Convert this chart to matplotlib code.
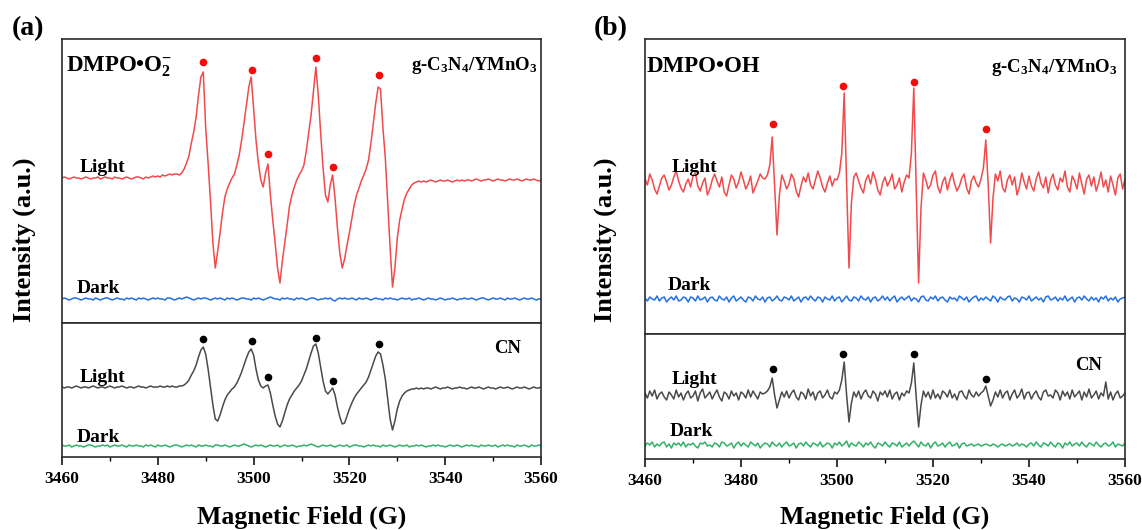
import numpy as np
import matplotlib
matplotlib.use("Agg")
import matplotlib.pyplot as plt
from matplotlib.ticker import MultipleLocator

plt.rcParams['font.family'] = ['Liberation Serif', 'DejaVu Serif']
plt.rcParams['font.weight'] = 'bold'
plt.rcParams['mathtext.fontset'] = 'custom'
plt.rcParams['mathtext.rm'] = 'Liberation Serif:bold'
plt.rcParams['mathtext.bf'] = 'Liberation Serif:bold'
plt.rcParams['mathtext.it'] = 'Liberation Serif:italic:bold'

# ---------------- data (field sweep 3460-3560 G, 0.5 G step) ----------------
field = np.arange(3460, 3560.25, 0.5)

# (a) g-C3N4/YMnO3, DMPO-O2-, light (absolute, upper panel units)
a_light = [145, 146, 145, 144, 145, 146, 145, 145, 144, 145,
           146, 145, 144, 145, 145, 146, 144, 145, 146, 145,
           145, 144, 146, 145, 145, 144, 145, 146, 145, 144,
           145, 146, 146, 145, 144, 146, 145, 146, 147, 146,
           147, 146, 148, 147, 148, 149, 148, 149, 149, 148,
           150, 154, 160, 167, 180, 191, 206, 228, 246, 251,
           195, 160, 122, 80, 55, 72, 90, 110, 126, 134,
           140, 145, 149, 158, 168, 183, 200, 218, 236, 246,
           215, 183, 160, 143, 136, 150, 159, 128, 103, 80,
           55, 40, 62, 80, 98, 117, 128, 136, 143, 148,
           152, 158, 172, 190, 208, 232, 256, 228, 190, 155,
           128, 121, 138, 148, 125, 95, 70, 55, 64, 78,
           90, 104, 118, 128, 135, 142, 148, 154, 163, 180,
           200, 220, 236, 234, 195, 165, 120, 75, 36, 55,
           85, 103, 114, 124, 130, 134, 138, 140, 141, 142,
           141, 142, 141, 142, 143, 142, 141, 142, 143, 142,
           142, 143, 142, 141, 142, 143, 142, 143, 142, 143,
           143, 142, 143, 144, 143, 142, 143, 143, 144, 143,
           142, 143, 144, 143, 143, 142, 143, 144, 143, 143,
           144, 143, 142, 143, 144, 143, 143, 144, 143, 142, 143]

# (a) dark, offset + wiggle (upper panel units)
a_dark_offset = 24
a_dark = [0, 1, 0, -1, 0, 1, 1, 0, -1, 0, 1, 0, 0, -1, 1, 0, -1, 0, 1, 1,
          0, -1, 0, 1, 0, 0, -1, 1, 0, 1, 0, -1, 1, 0, 1, 0, -1, 0, 1, 0,
          1, 0, 0, -1, 1, 1, 0, -1, 0, 1, 0, 1, 2, 1, 0, -1, 0, 1, 0, 1,
          1, 0, -1, 0, 1, 0, 1, 0, -1, 1, 0, 1, 0, -1, 0, 1, 1, 0, 0, -1,
          1, 0, 1, 0, -1, 0, 1, 2, 1, 0, 0, -1, 1, 0, 1, 0, 0, -1, 1, 0,
          1, 0, -1, 0, 1, 1, 0, -1, 0, 0, 1, 0, 1, -1, -2, 0, 1, 0, 1, 0,
          0, 1, 0, -1, 1, 0, 0, 1, 0, -1, 0, 1, 0, 0, -1, 1, 0, 1, 0, 0,
          -1, 0, 1, 0, 0, 1, -1, 0, 0, 1, 0, -1, 0, 1, 0, 0, -1, 0, 1, 0,
          -1, 0, 0, 1, 0, -1, 0, 0, 1, 0, 0, 1, 0, -1, 0, 1, 1, 0, -1, 0,
          1, 0, 0, 1, 0, -1, 1, 0, 0, 1, 0, -1, 0, 1, 0, 0, 1, 0, -1, 0, 0]

# (a) CN light (absolute, lower panel units)
a_cn_light = [70, 69, 70, 70, 69, 70, 71, 70, 69, 70,
              70, 69, 70, 71, 70, 69, 70, 70, 69, 70,
              71, 70, 69, 70, 70, 71, 70, 69, 70, 70,
              69, 70, 71, 70, 70, 69, 70, 71, 70, 70,
              70, 71, 70, 70, 71, 70, 71, 70, 70, 71,
              71, 72, 74, 77, 82, 86, 92, 100, 107, 110,
              103, 88, 70, 52, 38, 36, 42, 50, 57, 62,
              65, 68, 70, 74, 79, 85, 92, 99, 105, 108,
              102, 88, 77, 71, 69, 71, 72, 64, 52, 41,
              33, 30, 36, 44, 52, 58, 62, 66, 69, 72,
              76, 82, 88, 96, 104, 111, 113, 104, 90, 76,
              66, 63, 66, 69, 62, 50, 40, 33, 34, 41,
              48, 54, 59, 63, 66, 69, 72, 75, 80, 87,
              94, 101, 105, 103, 92, 78, 58, 38, 27, 36,
              48, 56, 61, 64, 66, 67, 68, 68, 69, 68,
              69, 68, 69, 69, 68, 69, 70, 69, 68, 69,
              69, 70, 69, 68, 69, 69, 70, 69, 69, 68,
              69, 70, 69, 69, 70, 69, 68, 69, 70, 69,
              69, 68, 69, 70, 69, 69, 70, 69, 68, 69,
              70, 69, 69, 70, 69, 68, 69, 70, 69, 69, 70]

# (a) CN dark, offset + wiggle (lower panel units)
a_cn_dark_offset = 11
a_cn_dark = [1, 0, 0, 1, -1, 0, 1, 0, 0, -1, 0, 1, 1, 0, -1, 0, 0, 1, 0, 1,
             -1, 0, 1, 0, 0, 1, 0, -1, 1, 0, 0, 1, 0, 0, -1, 1, 0, 1, 0, -1,
             1, 0, 0, 1, 0, -1, 0, 1, 1, 0, -1, 0, 1, 0, 1, 0, -1, 1, 0, 0,
             1, 0, 0, -1, 1, 1, 0, 0, 1, 0, -1, 0, 1, 0, 0, 1, 2, 1, 0, -1,
             0, 1, 0, 1, 0, -1, 0, 1, 0, 0, 1, -1, 0, 1, 0, 0, 1, 0, -1, 0,
             0, 1, 0, 1, 2, 1, 0, -1, 0, 1, 0, 0, 1, 0, -1, 0, 1, 0, 0, 1,
             -1, 0, 1, 1, 0, 0, -1, 0, 1, 0, 1, 0, 0, -1, 1, 0, 0, 1, 0, -1,
             0, 1, 0, 0, 1, -1, 0, 0, 1, 0, 1, 0, -1, 0, 0, 1, 0, 1, 0, 0,
             -1, 0, 1, 0, 0, 1, 0, -1, 0, 1, 0, 1, 0, 0, -1, 1, 0, 0, 1, 0,
             0, 1, -1, 0, 1, 0, 1, 0, 0, -1, 1, 0, 0, 1, 0, -1, 1, 0, 0, 1, 0]

# (b) g-C3N4/YMnO3, DMPO-OH, light: offset + signal (upper panel units)
b_light_offset = 151
b_light = [4, -2, 9, 3, -6, -11, -3, 5, 8, 1,
           -7, -2, 6, 12, 2, -5, -9, -1, 4, -4,
           7, 10, -3, -8, 0, 5, -12, -6, 3, 9,
           2, -4, 6, -9, -13, -2, 8, 4, -5, 1,
           11, 3, -6, -1, 7, -10, -4, 2, 9, 5,
           4, 8, 18, 46, -2, -52, -12, 8, 2, -6,
           -1, 9, 4, -8, -14, -3, 6, 1, 10, -2,
           -6, 3, 12, 5, -4, -9, 0, 7, -3, 4,
           3, 10, 30, 90, 0, -85, -20, 6, 10, 2,
           -5, -10, 3, 8, -1, 11, 4, -7, -12, 0,
           6, -3, 2, 9, -6, -2, 5, -9, 1, 8,
           5, 30, 95, -5, -100, -25, 10, 3, -6, -2,
           8, 12, -4, -10, 1, 6, -7, 3, 10, -1,
           -8, -3, 5, 9, -5, -11, 2, 7, 0, -4,
           4, 15, 43, -2, -60, -15, 9, 2, 12, -5,
           -9, 3, 8, -2, 6, -12, -4, 10, 1, -6,
           7, -3, -8, 4, 11, 0, -5, 6, -10, 3,
           9, -2, -7, 5, 1, 12, -4, -9, 7, 2,
           -6, 10, -1, -11, 4, 8, -3, 6, -8, 0,
           11, -4, 3, -9, 7, -2, -12, 5, 9, -6, 4]

b_dark_offset = 35
b_dark = [1, -2, 2, 0, -1, 3, -2, 1, 2, -3, 0, 2, -1, 3, -2, -1, 2, 1, -3, 2,
          1, -2, 3, -1, 0, 2, -3, 1, 2, -1, -2, 3, 0, -1, 2, -3, 1, 3, -2, 0,
          2, -1, -3, 2, 1, -2, 3, 0, -1, 2, -3, 1, 2, -2, 0, 3, -1, -2, 2, 1,
          -1, 3, -2, 0, 2, -3, 1, 2, -1, 3, 0, -2, 2, 1, -3, 2, 0, -1, 3, -2,
          1, 2, -3, 0, 3, -1, -2, 2, 1, -2, 3, 0, -1, 2, -3, 1, 2, -2, 0, 3,
          -1, 2, -2, 1, 3, -3, 0, 2, -1, 1, 3, -2, 1, 0, -3, 2, 3, -1, -2, 2,
          0, 3, -2, 1, 2, -1, -3, 2, 0, 1, -2, 3, 1, -1, 2, -3, 0, 2, 3, -2,
          1, -1, 2, 0, -2, 3, 1, -3, 2, 0, -1, 2, 3, -2, 1, 0, -3, 2, 1, -1,
          3, -2, 0, 2, -1, 1, -3, 2, 3, -1, 0, 2, -2, 1, -1, 3, -2, 0, 2, -3,
          1, 2, -1, 3, 0, -2, 2, -1, 1, -3, 2, 0, 3, -2, 1, -1, 2, -3, 0, 1, 2]

# (b) CN light: offset + signal (lower panel units)
b_cn_light_offset = 64
b_cn_light = [2, -3, 4, -1, 5, -4, 1, 3, -2, -5,
              3, 0, -4, 5, -2, 2, -5, 1, 4, -3,
              -1, 4, -6, 2, 6, -3, 0, 3, -4, 1,
              5, -2, -6, 3, 1, -4, 4, -1, 2, -5,
              3, 1, -3, 5, -2, 4, 0, -4, 3, 1,
              2, 4, 8, 17, 0, -13, -5, 3, -2, 4,
              -3, 2, 5, -2, -5, 3, 1, -4, 6, -1,
              3, -5, 2, 4, -3, 0, 5, -2, -4, 3,
              1, 5, 15, 33, 0, -27, -8, 3, -2, 4,
              -4, 2, 5, -1, -3, 4, 1, -6, 3, 0,
              4, -2, 5, -4, 1, 3, -5, 2, -1, 4,
              2, 12, 32, -2, -32, -10, 4, -2, 3, -4,
              5, -3, 1, -4, 4, 2, -2, 5, -3, 1,
              -5, 3, 4, -1, -4, 5, 0, -2, 3, -1,
              2, 4, 9, -1, -11, -5, 3, -2, 5, -3,
              2, 4, -5, 1, 5, -3, 0, 6, -4, 2,
              3, -4, 1, 4, -2, -5, 3, 5, -1, 0,
              -3, 5, 2, -5, 4, -1, 3, -4, 5, -2,
              1, 4, -5, 3, -2, 6, -3, 0, 4, -4,
              2, -1, 13, -4, 3, -5, 1, 4, -3, -1, 2]

b_cn_dark_offset = 14
b_cn_dark = [-1, 2, 0, 3, -2, 1, -1, 2, 3, -2, 1, -3, 2, 0, 2, -1, 3, -2, 1, 0,
             2, -1, -3, 2, 1, 3, -1, 0, -2, 2, 1, -2, 3, 2, -1, 0, 2, -3, 1, 3,
             -1, 2, 0, -2, 3, 1, -1, 2, -3, 0, 2, 1, -2, 3, 0, -1, 2, -2, 1, 3,
             -1, 0, 2, -3, 1, 2, -1, 3, 0, -2, 2, 1, -1, 3, -2, 0, 2, 1, -3, 2,
             0, 3, -1, 1, 4, -2, 2, 0, -1, 3, 1, -2, 2, 0, 3, -1, -3, 2, 1, -1,
             3, 0, -2, 2, 1, -1, 3, -2, 0, 2, -1, 2, 4, 1, -2, 3, 0, -1, 2, -3,
             1, 3, -1, 0, 2, -2, 1, 3, -1, 0, 2, -3, 1, 2, -1, 0, 1, -1, 0, 1,
             -1, 0, 1, 0, -1, 1, 0, -2, 0, 1, -1, 0, 1, -1, 0, 2, -1, 1, 0, -2,
             1, 2, -1, 3, 0, -2, 2, 1, -1, 3, 0, -2, 2, 1, -3, 2, 0, 3, -1, 1,
             2, -1, 3, 0, -2, 2, 1, -1, 3, 0, -2, 1, 2, -1, 0, 3, -2, 1, 0, -1, 2]

# marker dots (field, height)
a_dot_fields = [3489.5, 3499.7, 3503.1, 3513.0, 3516.6, 3526.2]
a_dot_light = [261, 253, 169, 265, 156, 248]
a_dot_cn = [118, 116, 80, 119, 76, 113]
b_dot_fields = [3486.6, 3501.3, 3516.1, 3531.0]
b_dot_light = [210, 248, 252, 205]
b_dot_cn = [90, 105, 105, 80]

x_ticks = [3460, 3480, 3500, 3520, 3540, 3560]

# ---------------- styling ----------------
RED = '#F04A4C'
DOT_RED = '#F20D0D'
BLUE = '#2470E0'
GRAY = '#4A4A4A'
GREEN = '#35B06A'
LW = 1.1
W, H = 1142, 530

fig = plt.figure(figsize=(W / 100, H / 100), dpi=100)


def px_axes(left, right, top, bottom):
    return fig.add_axes([left / W, 1 - bottom / H, (right - left) / W, (bottom - top) / H])


axA_top = px_axes(62, 541, 39, 323)
axA_bot = px_axes(62, 541, 323, 457)
axB_top = px_axes(645, 1125, 39, 334)
axB_bot = px_axes(645, 1125, 334, 459)

f = np.asarray(field)

axA_top.plot(f, a_light, color=RED, lw=LW)
axA_top.plot(f, a_dark_offset + np.asarray(a_dark), color=BLUE, lw=LW)
axA_top.plot(a_dot_fields, a_dot_light, 'o', color=DOT_RED, ms=5.5, mec='none')
axA_top.set_ylim(0, 284)

axA_bot.plot(f, a_cn_light, color=GRAY, lw=LW)
axA_bot.plot(f, a_cn_dark_offset + np.asarray(a_cn_dark), color=GREEN, lw=LW)
axA_bot.plot(a_dot_fields, a_dot_cn, 'o', color='black', ms=5.5, mec='none')
axA_bot.set_ylim(0, 134)

axB_top.plot(f, b_light_offset + np.asarray(b_light), color=RED, lw=LW)
axB_top.plot(f, b_dark_offset + np.asarray(b_dark), color=BLUE, lw=LW)
axB_top.plot(b_dot_fields, b_dot_light, 'o', color=DOT_RED, ms=5.5, mec='none')
axB_top.set_ylim(0, 295)

axB_bot.plot(f, b_cn_light_offset + np.asarray(b_cn_light), color=GRAY, lw=LW)
axB_bot.plot(f, b_cn_dark_offset + np.asarray(b_cn_dark), color=GREEN, lw=LW)
axB_bot.plot(b_dot_fields, b_dot_cn, 'o', color='black', ms=5.5, mec='none')
axB_bot.set_ylim(0, 125)

for ax in (axA_top, axA_bot, axB_top, axB_bot):
    ax.set_xlim(3460, 3560)
    ax.set_yticks([])
    for s in ax.spines.values():
        s.set_linewidth(1.2)
        s.set_color('#2b2b2b')

for ax in (axA_top, axB_top):
    ax.set_xticks([])

for ax in (axA_bot, axB_bot):
    ax.set_xticks(x_ticks)
    ax.xaxis.set_minor_locator(MultipleLocator(10))
    ax.tick_params(axis='x', which='major', direction='out', length=6, width=1.1,
                   labelsize=12.5, pad=4)
    ax.tick_params(axis='x', which='minor', direction='out', length=3, width=1.0)
    for lab in ax.get_xticklabels():
        lab.set_fontweight('bold')

txt = dict(fontweight='bold', va='baseline')

# panel (a) texts
axA_top.text(0.008, 0.884, 'DMPO•O$_{\\mathbf{2}}^{\\mathbf{-}}$', transform=axA_top.transAxes,
             ha='left', fontsize=16.5, **txt)
axA_top.text(0.994, 0.891, 'g-C$_{\\mathbf{3}}$N$_{\\mathbf{4}}$/YMnO$_{\\mathbf{3}}$',
             transform=axA_top.transAxes, ha='right', fontsize=13.5, **txt)
axA_top.text(0.036, 0.532, 'Light', transform=axA_top.transAxes, ha='left', fontsize=14, **txt)
axA_top.text(0.031, 0.106, 'Dark', transform=axA_top.transAxes, ha='left', fontsize=14, **txt)
axA_bot.text(0.958, 0.776, 'CN', transform=axA_bot.transAxes, ha='right', fontsize=13.5, **txt)
axA_bot.text(0.036, 0.56, 'Light', transform=axA_bot.transAxes, ha='left', fontsize=14, **txt)
axA_bot.text(0.031, 0.112, 'Dark', transform=axA_bot.transAxes, ha='left', fontsize=14, **txt)

# panel (b) texts
axB_top.text(0.004, 0.888, 'DMPO•OH', transform=axB_top.transAxes, ha='left', fontsize=16.5, **txt)
axB_top.text(0.985, 0.888, 'g-C$_{\\mathbf{3}}$N$_{\\mathbf{4}}$/YMnO$_{\\mathbf{3}}$',
             transform=axB_top.transAxes, ha='right', fontsize=13.5, **txt)
axB_top.text(0.056, 0.549, 'Light', transform=axB_top.transAxes, ha='left', fontsize=14, **txt)
axB_top.text(0.048, 0.149, 'Dark', transform=axB_top.transAxes, ha='left', fontsize=14, **txt)
axB_bot.text(0.952, 0.712, 'CN', transform=axB_bot.transAxes, ha='right', fontsize=13.5, **txt)
axB_bot.text(0.056, 0.60, 'Light', transform=axB_bot.transAxes, ha='left', fontsize=14, **txt)
axB_bot.text(0.052, 0.184, 'Dark', transform=axB_bot.transAxes, ha='left', fontsize=14, **txt)

# panel letters and axis titles
fig.text(12 / W, 1 - 29 / H, '(a)', ha='left', va='center', fontsize=20, fontweight='bold')
fig.text(594 / W, 1 - 29 / H, '(b)', ha='left', va='center', fontsize=20, fontweight='bold')
for cx in (301.5, 885):
    fig.text(cx / W, 1 - 517 / H, 'Magnetic Field (G)', ha='center', va='center',
             fontsize=18.5, fontweight='bold')
for cx in (24, 605):
    fig.text(cx / W, 1 - 240 / H, 'Intensity (a.u.)', ha='center', va='center',
             rotation=90, fontsize=19, fontweight='bold')

fig.savefig('out.png', dpi=100)
